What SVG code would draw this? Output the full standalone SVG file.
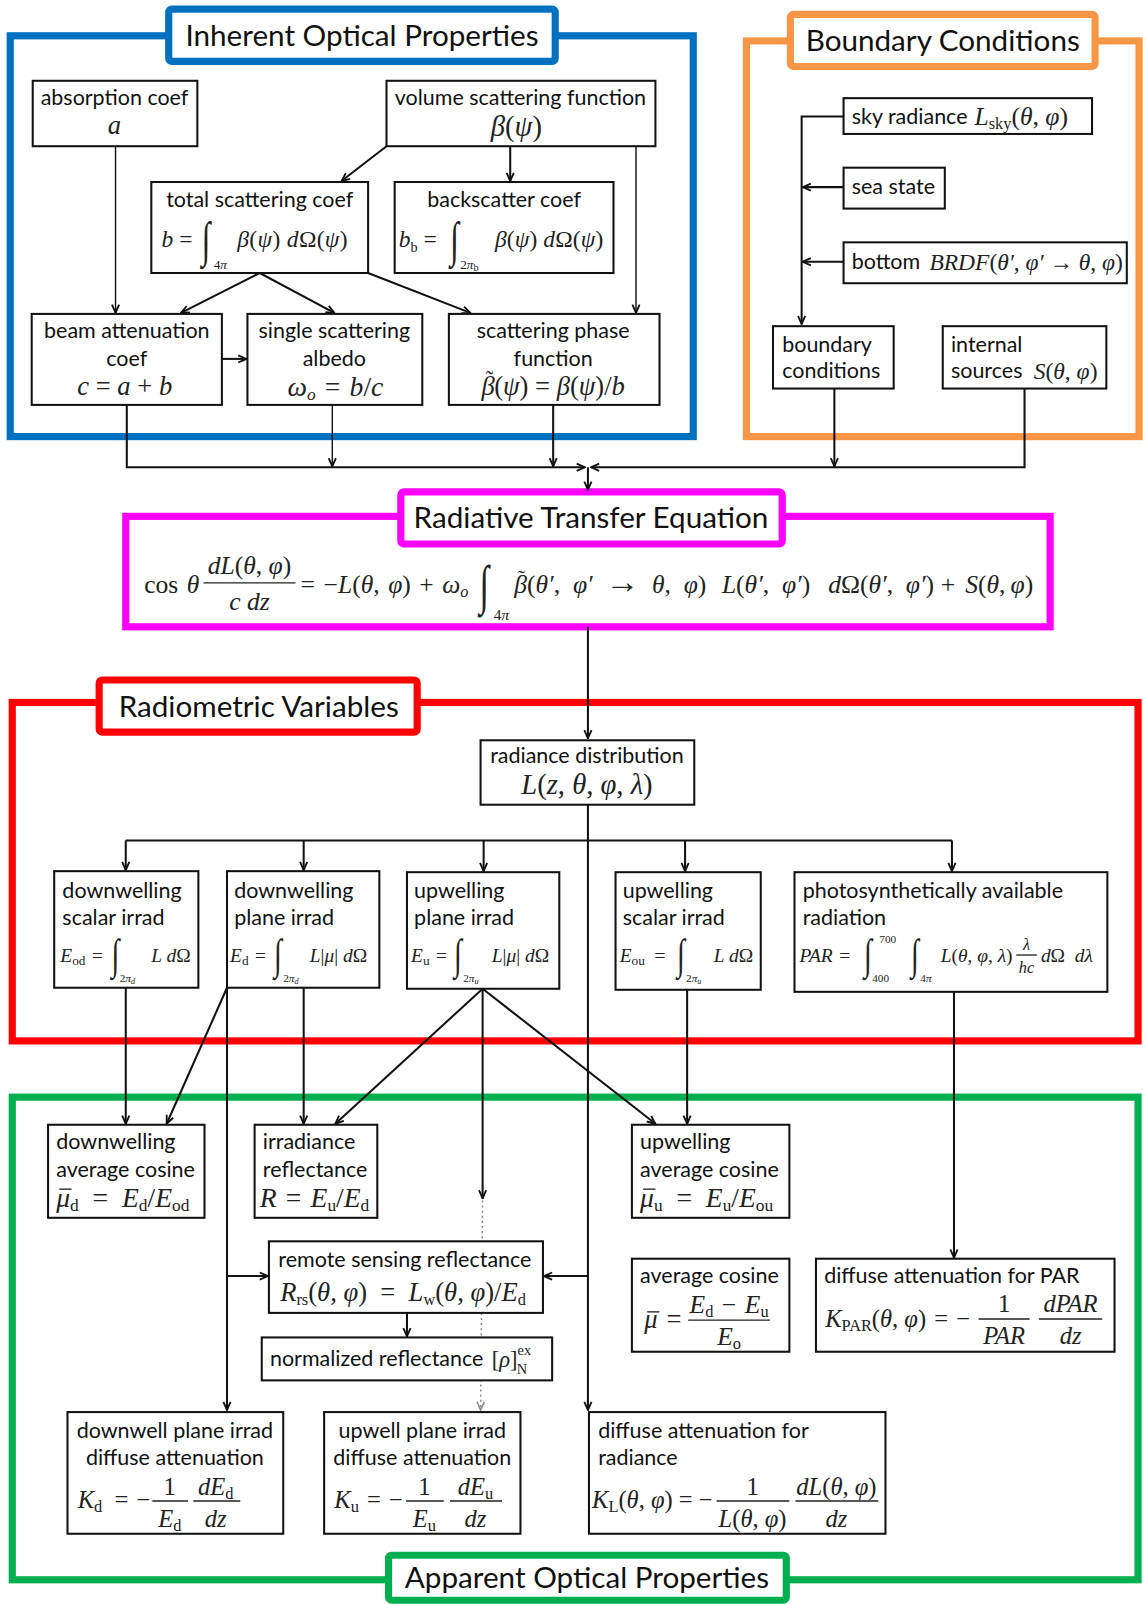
<svg xmlns="http://www.w3.org/2000/svg" width="1143" height="1604" viewBox="0 0 1143 1604">
<style>
.lbl{font-family:Lato,"Liberation Sans",sans-serif;font-size:21px;fill:#111}
.ttl{font-family:Lato,"Liberation Sans",sans-serif;font-size:29px;fill:#111;text-anchor:middle}
.c{text-anchor:middle}
.m{font-family:"Liberation Serif",serif;font-style:italic;fill:#222}
.r{font-style:normal}
.box{fill:#fff;stroke:#111;stroke-width:2}
.frame{fill:none;stroke-width:7}
.tbox{fill:#fff;stroke-width:7}
.ln{fill:none;stroke:#111;stroke-width:2}
.thin{stroke-width:1.4}
.dot{fill:none;stroke:#888;stroke-width:1.5;stroke-dasharray:2 3}
.int{font-family:"Liberation Serif",serif;fill:#222}
.bar{stroke:#222;stroke-width:1.3}
</style>
<defs>
<marker id="ah" viewBox="0 0 10 10" refX="9" refY="5" markerWidth="10" markerHeight="10" markerUnits="userSpaceOnUse" orient="auto"><path d="M1,1.5 L9,5 L1,8.5" fill="none" stroke="#111" stroke-width="1.8"/></marker>
<marker id="ahg" viewBox="0 0 10 10" refX="9" refY="5" markerWidth="10" markerHeight="10" markerUnits="userSpaceOnUse" orient="auto"><path d="M1,1.5 L9,5 L1,8.5" fill="none" stroke="#888" stroke-width="1.5"/></marker>
</defs>
<rect width="1143" height="1604" fill="#fff"/>
<g transform="scale(1.0225)">

<g id="frames">
<rect class="frame" x="10" y="35" width="668" height="392" stroke="#0070C0"/>
<rect class="tbox" x="165" y="9" width="378" height="51" rx="3" stroke="#0070C0"/>
<text class="ttl" x="354" y="45">Inherent Optical Properties</text>
<rect class="frame" x="730" y="40" width="384" height="387" stroke="#F79646"/>
<rect class="tbox" x="773" y="14" width="298" height="51" rx="3" stroke="#F79646"/>
<text class="ttl" x="922" y="50">Boundary Conditions</text>
<rect class="frame" x="123" y="505" width="904" height="108" stroke="#FF00FF"/>
<rect class="tbox" x="392" y="481" width="373" height="51" rx="3" stroke="#FF00FF"/>
<text class="ttl" x="578" y="516">Radiative Transfer Equation</text>
<rect class="frame" x="12" y="687" width="1101" height="331" stroke="#FF0000"/>
<rect class="tbox" x="97" y="665" width="311" height="51" rx="3" stroke="#FF0000"/>
<text class="ttl" x="253" y="701">Radiometric Variables</text>
<rect class="frame" x="12" y="1073" width="1101" height="472" stroke="#00B050"/>
<rect class="tbox" x="380" y="1521" width="389" height="44" rx="3" stroke="#00B050"/>
<text class="ttl" x="574" y="1553">Apparent Optical Properties</text>
</g>

<g id="connectors">
<path class="ln thin" d="M113,143 V306" marker-end="url(#ah)"/>
<path class="ln" d="M378,143 L334,177" marker-end="url(#ah)"/>
<path class="ln" d="M499,143 V177" marker-end="url(#ah)"/>
<path class="ln thin" d="M622,143 V306" marker-end="url(#ah)"/>
<path class="ln" d="M254,267 L177,306" marker-end="url(#ah)"/>
<path class="ln" d="M254,267 L327,306" marker-end="url(#ah)"/>
<path class="ln" d="M360,267 L460,306" marker-end="url(#ah)"/>
<path class="ln" d="M217,351 H241" marker-end="url(#ah)"/>
<path class="ln" d="M124,396 V457 H572" marker-end="url(#ah)"/>
<path class="ln" d="M1002,380 V457 H578" marker-end="url(#ah)"/>
<path class="ln thin" d="M325,396 V456" marker-end="url(#ah)"/>
<path class="ln" d="M541,396 V456" marker-end="url(#ah)"/>
<path class="ln" d="M816,380 V456" marker-end="url(#ah)"/>
<path class="ln" d="M575,457 V479" marker-end="url(#ah)"/>
<path class="ln" d="M825,114 H784 V317" marker-end="url(#ah)"/>
<path class="ln" d="M825,183 H785" marker-end="url(#ah)"/>
<path class="ln" d="M825,256 H785" marker-end="url(#ah)"/>
<path class="ln" d="M575,613 V722" marker-end="url(#ah)"/>
<path class="ln" d="M575,787 V1379" marker-end="url(#ah)"/>
<path class="ln" d="M123,822 H931"/>
<path class="ln" d="M123,822 V851" marker-end="url(#ah)"/>
<path class="ln" d="M297,822 V851" marker-end="url(#ah)"/>
<path class="ln" d="M473,822 V852" marker-end="url(#ah)"/>
<path class="ln" d="M670,822 V852" marker-end="url(#ah)"/>
<path class="ln" d="M931,822 V852" marker-end="url(#ah)"/>
<path class="ln" d="M123,966 V1099" marker-end="url(#ah)"/>
<path class="ln" d="M222,966 L163,1099" marker-end="url(#ah)"/>
<path class="ln" d="M222,966 V1379" marker-end="url(#ah)"/>
<path class="ln" d="M222,1248 H262" marker-end="url(#ah)"/>
<path class="ln" d="M575,1248 H532" marker-end="url(#ah)"/>
<path class="ln" d="M297,966 V1099" marker-end="url(#ah)"/>
<path class="ln" d="M472,967 L328,1099" marker-end="url(#ah)"/>
<path class="ln" d="M472,967 L641,1099" marker-end="url(#ah)"/>
<path class="ln" d="M472,967 V1172" marker-end="url(#ah)"/>
<path class="dot" d="M472,1174 L470,1379" marker-end="url(#ahg)"/>
<path class="ln" d="M672,968 V1099" marker-end="url(#ah)"/>
<path class="ln" d="M933,970 V1230" marker-end="url(#ah)"/>
<path class="ln" d="M398,1284 V1307" marker-end="url(#ah)"/>
</g>

<g id="n-absorption">
<rect class="box" x="32" y="79" width="161" height="64"/>
<text class="lbl c" x="112" y="103">absorption coef</text>
<text class="m c" x="112" y="131" font-size="26">a</text>
</g>
<g id="n-vsf">
<rect class="box" x="378" y="79" width="263" height="64"/>
<text class="lbl c" x="509" y="103">volume scattering function</text>
<text class="m c" x="505" y="133" font-size="28">β<tspan class="r">(</tspan>ψ<tspan class="r">)</tspan></text>
</g>
<g id="n-total">
<rect class="box" x="148" y="178" width="212" height="89"/>
<text class="lbl c" x="254" y="202">total scattering coef</text>
<text class="m" x="158" y="242" font-size="23">b <tspan class="r">=</tspan></text>
<text class="int" transform="translate(197,250) scale(1,1.55)" font-size="31">∫</text>
<text class="m" x="209" y="263" font-size="13"><tspan class="r">4</tspan>π</text>
<text class="m" x="232" y="242" font-size="23" textLength="108">β<tspan class="r">(</tspan>ψ<tspan class="r">) </tspan>d<tspan class="r">Ω(</tspan>ψ<tspan class="r">)</tspan></text>
</g>
<g id="n-backscatter">
<rect class="box" x="386" y="178" width="214" height="89"/>
<text class="lbl c" x="493" y="202">backscatter coef</text>
<text class="m" x="390" y="242" font-size="23">b<tspan class="r" font-size="14" dy="4">b</tspan><tspan class="r" dy="-4"> =</tspan></text>
<text class="int" transform="translate(440,250) scale(1,1.55)" font-size="31">∫</text>
<text class="m" x="450" y="263" font-size="13"><tspan class="r">2</tspan>π<tspan class="r" font-size="10" dy="2">b</tspan></text>
<text class="m" x="484" y="242" font-size="23" textLength="106">β<tspan class="r">(</tspan>ψ<tspan class="r">) </tspan>d<tspan class="r">Ω(</tspan>ψ<tspan class="r">)</tspan></text>
</g>
<g id="n-beam">
<rect class="box" x="31" y="307" width="186" height="89"/>
<text class="lbl c" x="124" y="331">beam attenuation</text>
<text class="lbl c" x="124" y="358">coef</text>
<text class="m c" x="122" y="386" font-size="26">c <tspan class="r">=</tspan> a <tspan class="r">+</tspan> b</text>
</g>
<g id="n-albedo">
<rect class="box" x="242" y="307" width="171" height="89"/>
<text class="lbl c" x="327" y="331">single scattering</text>
<text class="lbl c" x="327" y="358">albedo</text>
<text class="m c" x="328" y="387" font-size="27">ω<tspan font-size="17" dy="4">o</tspan><tspan dy="-4" class="r">&#8196;=&#8196;</tspan>b<tspan class="r">/</tspan>c</text>
</g>
<g id="n-phase">
<rect class="box" x="439" y="307" width="206" height="89"/>
<text class="lbl c" x="541" y="331">scattering phase</text>
<text class="lbl c" x="541" y="358">function</text>
<text class="m" x="471" y="386" font-size="26">β<tspan class="r" font-size="22" dx="-9" dy="-8">&#732;</tspan><tspan class="r" dx="1" dy="8">(</tspan>ψ<tspan class="r">) = </tspan>β<tspan class="r">(</tspan>ψ<tspan class="r">)/</tspan>b</text>
</g>

<g id="n-sky">
<rect class="box" x="825" y="96" width="243" height="35"/>
<text class="lbl" x="833" y="121">sky radiance</text>
<text class="m" x="953" y="122" font-size="25">L<tspan class="r" font-size="16" dy="4">sky</tspan><tspan class="r" dy="-4">(</tspan>θ<tspan class="r">, </tspan>φ<tspan class="r">)</tspan></text>
</g>
<g id="n-sea">
<rect class="box" x="825" y="164" width="99" height="40"/>
<text class="lbl" x="833" y="190">sea state</text>
</g>
<g id="n-brdf">
<rect class="box" x="825" y="237" width="277" height="40"/>
<text class="lbl" x="833" y="263">bottom</text>
<text class="m" x="909" y="264" font-size="23" textLength="189">BRDF<tspan class="r">(</tspan>θ′<tspan class="r">, </tspan>φ′<tspan class="r"> → </tspan>θ<tspan class="r">, </tspan>φ<tspan class="r">)</tspan></text>
</g>
<g id="n-boundary">
<rect class="box" x="756" y="319" width="118" height="61"/>
<text class="lbl" x="765" y="344">boundary</text>
<text class="lbl" x="765" y="370">conditions</text>
</g>
<g id="n-internal">
<rect class="box" x="922" y="319" width="160" height="61"/>
<text class="lbl" x="930" y="344">internal</text>
<text class="lbl" x="930" y="370">sources</text>
<text class="m" x="1011" y="371" font-size="23">S<tspan class="r">(</tspan>θ<tspan class="r">, </tspan>φ<tspan class="r">)</tspan></text>
</g>

<g id="n-rte">
<text class="m" x="141" y="580" font-size="25"><tspan class="r">cos&#8196;</tspan>θ</text>
<text class="m c" x="244" y="561" font-size="25">dL<tspan class="r">(</tspan>θ<tspan class="r">, </tspan>φ<tspan class="r">)</tspan></text>
<line class="bar" x1="199" y1="570" x2="289" y2="570"/>
<text class="m c" x="244" y="597" font-size="25">c dz</text>
<text class="m" x="294" y="580" font-size="25"><tspan class="r">=&#8196;−</tspan>L<tspan class="r">(</tspan>θ<tspan class="r">,&#8196;</tspan>φ<tspan class="r">)&#8196;+&#8196;</tspan>ω<tspan font-size="16" dy="4">o</tspan></text>
<text class="int" transform="translate(469,590) scale(1,1.55)" font-size="34">∫</text>
<text class="m" x="483" y="606" font-size="15"><tspan class="r">4</tspan>π</text>
<text class="m" y="580" font-size="25"><tspan x="503">β</tspan><tspan class="r" font-size="21" dx="-9" dy="-8">&#732;</tspan><tspan class="r" dx="2" dy="8">(</tspan>θ′<tspan class="r">,&#8194;</tspan>φ′<tspan class="r">&#8194;</tspan><tspan class="r" font-size="33">→</tspan><tspan class="r">&#8194;</tspan>θ<tspan class="r">,&#8194;</tspan>φ<tspan class="r">)</tspan><tspan x="706">L</tspan><tspan class="r">(</tspan>θ′<tspan class="r">,&#8194;</tspan>φ′<tspan class="r">)</tspan><tspan x="810">d</tspan><tspan class="r">Ω(</tspan>θ′<tspan class="r">,&#8194;</tspan>φ′<tspan class="r">)</tspan><tspan class="r" x="920">+</tspan><tspan x="944">S</tspan><tspan class="r">(</tspan>θ<tspan class="r">,&#8201;</tspan>φ<tspan class="r">)</tspan></text>
</g>

<g id="n-radiance">
<rect class="box" x="470" y="724" width="209" height="63"/>
<text class="lbl c" x="574" y="746">radiance distribution</text>
<text class="m c" x="574" y="777" font-size="28">L<tspan class="r">(</tspan>z<tspan class="r">, </tspan>θ<tspan class="r">, </tspan>φ<tspan class="r">, </tspan>λ<tspan class="r">)</tspan></text>
</g>

<g id="n-eod">
<rect class="box" x="53" y="852" width="141" height="114"/>
<text class="lbl" x="61" y="878">downwelling</text>
<text class="lbl" x="61" y="905">scalar irrad</text>
<text class="m" x="59" y="941" font-size="19">E<tspan class="r" font-size="13" dy="3">od</tspan><tspan class="r" dy="-3">&#8196;=</tspan></text>
<text class="int" transform="translate(109,948) scale(1,1.5)" font-size="28">∫</text>
<text class="m" x="117" y="960" font-size="11"><tspan class="r">2</tspan>π<tspan font-size="8" dy="2">d</tspan></text>
<text class="m" x="148" y="941" font-size="19">L d<tspan class="r">Ω</tspan></text>
</g>
<g id="n-ed">
<rect class="box" x="222" y="852" width="149" height="114"/>
<text class="lbl" x="229" y="878">downwelling</text>
<text class="lbl" x="229" y="905">plane irrad</text>
<text class="m" x="225" y="941" font-size="19">E<tspan class="r" font-size="13" dy="3">d</tspan><tspan class="r" dy="-3">&#8196;=</tspan></text>
<text class="int" transform="translate(268,948) scale(1,1.5)" font-size="28">∫</text>
<text class="m" x="277" y="960" font-size="11"><tspan class="r">2</tspan>π<tspan font-size="8" dy="2">d</tspan></text>
<text class="m" x="303" y="941" font-size="19">L<tspan class="r">|</tspan>μ<tspan class="r">| </tspan>d<tspan class="r">Ω</tspan></text>
</g>
<g id="n-eu">
<rect class="box" x="398" y="853" width="149" height="114"/>
<text class="lbl" x="405" y="878">upwelling</text>
<text class="lbl" x="405" y="905">plane irrad</text>
<text class="m" x="402" y="941" font-size="19">E<tspan class="r" font-size="13" dy="3">u</tspan><tspan class="r" dy="-3">&#8196;=</tspan></text>
<text class="int" transform="translate(444,948) scale(1,1.5)" font-size="28">∫</text>
<text class="m" x="453" y="960" font-size="11"><tspan class="r">2</tspan>π<tspan font-size="8" dy="2">u</tspan></text>
<text class="m" x="481" y="941" font-size="19">L<tspan class="r">|</tspan>μ<tspan class="r">| </tspan>d<tspan class="r">Ω</tspan></text>
</g>
<g id="n-eou">
<rect class="box" x="602" y="853" width="142" height="115"/>
<text class="lbl" x="609" y="878">upwelling</text>
<text class="lbl" x="609" y="905">scalar irrad</text>
<text class="m" x="606" y="941" font-size="19">E<tspan class="r" font-size="13" dy="3">ou</tspan><tspan class="r" dy="-3">&#8194;=</tspan></text>
<text class="int" transform="translate(662,948) scale(1,1.5)" font-size="28">∫</text>
<text class="m" x="671" y="960" font-size="11"><tspan class="r">2</tspan>π<tspan font-size="8" dy="2">u</tspan></text>
<text class="m" x="698" y="941" font-size="19">L d<tspan class="r">Ω</tspan></text>
</g>
<g id="n-par">
<rect class="box" x="777" y="853" width="306" height="117"/>
<text class="lbl" x="785" y="878">photosynthetically available</text>
<text class="lbl" x="785" y="905">radiation</text>
<text class="m" x="782" y="941" font-size="19">PAR<tspan class="r">&#8196;=</tspan></text>
<text class="int" transform="translate(845,948) scale(1,1.5)" font-size="28">∫</text>
<text class="m" x="860" y="922" font-size="11" style="font-style:normal">700</text>
<text class="m" x="853" y="960" font-size="11" style="font-style:normal">400</text>
<text class="int" transform="translate(891,948) scale(1,1.5)" font-size="28">∫</text>
<text class="m" x="900" y="960" font-size="11"><tspan class="r">4</tspan>π</text>
<text class="m" x="920" y="941" font-size="19">L<tspan class="r">(</tspan>θ<tspan class="r">, </tspan>φ<tspan class="r">, </tspan>λ<tspan class="r">)</tspan></text>
<text class="m c" x="1004" y="929" font-size="16">λ</text>
<line class="bar" x1="994" y1="934" x2="1014" y2="934"/>
<text class="m c" x="1004" y="952" font-size="16">hc</text>
<text class="m" x="1018" y="941" font-size="19">d<tspan class="r">Ω&#8194;</tspan>dλ</text>
</g>

<g id="n-mud">
<rect class="box" x="47" y="1100" width="153" height="91"/>
<text class="lbl" x="55" y="1124">downwelling</text>
<text class="lbl" x="55" y="1151">average cosine</text>
<line class="bar" x1="58" y1="1163" x2="70" y2="1163"/>
<text class="m" x="55" y="1180" font-size="27">μ<tspan class="r" font-size="17" dy="4">d</tspan><tspan class="r" dy="-4">&#8194;=&#8194;</tspan>E<tspan class="r" font-size="17" dy="4">d</tspan><tspan class="r" dy="-4">/</tspan>E<tspan class="r" font-size="17" dy="4">od</tspan></text>
</g>
<g id="n-R">
<rect class="box" x="249" y="1100" width="120" height="91"/>
<text class="lbl" x="257" y="1124">irradiance</text>
<text class="lbl" x="257" y="1151">reflectance</text>
<text class="m" x="254" y="1180" font-size="27">R<tspan class="r">&#8196;=&#8196;</tspan>E<tspan class="r" font-size="17" dy="4">u</tspan><tspan class="r" dy="-4">/</tspan>E<tspan class="r" font-size="17" dy="4">d</tspan></text>
</g>
<g id="n-muu">
<rect class="box" x="618" y="1100" width="154" height="91"/>
<text class="lbl" x="626" y="1124">upwelling</text>
<text class="lbl" x="626" y="1151">average cosine</text>
<line class="bar" x1="629" y1="1163" x2="641" y2="1163"/>
<text class="m" x="626" y="1180" font-size="27">μ<tspan class="r" font-size="17" dy="4">u</tspan><tspan class="r" dy="-4">&#8194;=&#8194;</tspan>E<tspan class="r" font-size="17" dy="4">u</tspan><tspan class="r" dy="-4">/</tspan>E<tspan class="r" font-size="17" dy="4">ou</tspan></text>
</g>
<g id="n-rrs">
<rect class="box" x="263" y="1214" width="268" height="70"/>
<text class="lbl c" x="396" y="1239">remote sensing reflectance</text>
<text class="m" x="274" y="1272" font-size="26">R<tspan class="r" font-size="16" dy="4">rs</tspan><tspan class="r" dy="-4">(</tspan>θ<tspan class="r">, </tspan>φ<tspan class="r">)&#8194;=&#8194;</tspan>L<tspan class="r" font-size="16" dy="4">w</tspan><tspan class="r" dy="-4">(</tspan>θ<tspan class="r">, </tspan>φ<tspan class="r">)/</tspan>E<tspan class="r" font-size="16" dy="4">d</tspan></text>
</g>
<g id="n-norm">
<rect class="box" x="256" y="1308" width="284" height="42"/>
<text class="lbl" x="264" y="1336">normalized reflectance</text>
<text class="m" x="481" y="1337" font-size="22"><tspan class="r">[</tspan>ρ<tspan class="r">]</tspan><tspan class="r" font-size="14" dy="-12">ex</tspan><tspan class="r" font-size="14" dx="-14" dy="19">N</tspan></text>
</g>
<g id="n-mu">
<rect class="box" x="618" y="1231" width="154" height="91"/>
<text class="lbl" x="626" y="1255">average cosine</text>
<line class="bar" x1="633" y1="1283" x2="645" y2="1283"/>
<text class="m" x="630" y="1299" font-size="26">μ<tspan class="r">&#8196;=</tspan></text>
<text class="m c" x="713" y="1284" font-size="25">E<tspan class="r" font-size="16" dy="4">d</tspan><tspan class="r" dy="-4">&#8196;−&#8196;</tspan>E<tspan class="r" font-size="16" dy="4">u</tspan></text>
<line class="bar" x1="673" y1="1291" x2="753" y2="1291"/>
<text class="m c" x="713" y="1315" font-size="25">E<tspan class="r" font-size="16" dy="4">o</tspan></text>
</g>
<g id="n-kpar">
<rect class="box" x="798" y="1231" width="292" height="91"/>
<text class="lbl" x="806" y="1255">diffuse attenuation for PAR</text>
<text class="m" x="807" y="1298" font-size="24">K<tspan class="r" font-size="16" dy="4">PAR</tspan><tspan class="r" dy="-4">(</tspan>θ<tspan class="r">, </tspan>φ<tspan class="r">)&#8196;=&#8196;−</tspan></text>
<text class="m c" x="982" y="1283" font-size="24"><tspan class="r">1</tspan></text>
<line class="bar" x1="957" y1="1290" x2="1007" y2="1290"/>
<text class="m c" x="982" y="1314" font-size="24">PAR</text>
<text class="m c" x="1047" y="1283" font-size="24">dPAR</text>
<line class="bar" x1="1016" y1="1290" x2="1078" y2="1290"/>
<text class="m c" x="1047" y="1314" font-size="24">dz</text>
</g>
<g id="n-kd">
<rect class="box" x="66" y="1381" width="211" height="119"/>
<text class="lbl c" x="171" y="1406">downwell plane irrad</text>
<text class="lbl c" x="171" y="1433">diffuse attenuation</text>
<text class="m" x="76" y="1475" font-size="24">K<tspan class="r" font-size="16" dy="4">d</tspan><tspan class="r" dy="-4">&#8194;=&#8196;−</tspan></text>
<text class="m c" x="166" y="1462" font-size="24"><tspan class="r">1</tspan></text>
<line class="bar" x1="149" y1="1468" x2="184" y2="1468"/>
<text class="m c" x="166" y="1493" font-size="24">E<tspan class="r" font-size="16" dy="4">d</tspan></text>
<text class="m c" x="211" y="1462" font-size="24">dE<tspan class="r" font-size="16" dy="4">d</tspan></text>
<line class="bar" x1="189" y1="1468" x2="235" y2="1468"/>
<text class="m c" x="211" y="1493" font-size="24">dz</text>
</g>
<g id="n-ku">
<rect class="box" x="317" y="1381" width="192" height="119"/>
<text class="lbl c" x="413" y="1406">upwell plane irrad</text>
<text class="lbl c" x="413" y="1433">diffuse attenuation</text>
<text class="m" x="327" y="1475" font-size="24">K<tspan class="r" font-size="16" dy="4">u</tspan><tspan class="r" dy="-4">&#8196;=&#8196;−</tspan></text>
<text class="m c" x="415" y="1462" font-size="24"><tspan class="r">1</tspan></text>
<line class="bar" x1="397" y1="1468" x2="434" y2="1468"/>
<text class="m c" x="415" y="1493" font-size="24">E<tspan class="r" font-size="16" dy="4">u</tspan></text>
<text class="m c" x="465" y="1462" font-size="24">dE<tspan class="r" font-size="16" dy="4">u</tspan></text>
<line class="bar" x1="440" y1="1468" x2="491" y2="1468"/>
<text class="m c" x="465" y="1493" font-size="24">dz</text>
</g>
<g id="n-kl">
<rect class="box" x="576" y="1381" width="290" height="119"/>
<text class="lbl" x="585" y="1406">diffuse attenuation for</text>
<text class="lbl" x="585" y="1433">radiance</text>
<text class="m" x="579" y="1475" font-size="24">K<tspan class="r" font-size="16" dy="4">L</tspan><tspan class="r" dy="-4">(</tspan>θ<tspan class="r">, </tspan>φ<tspan class="r">) = −</tspan></text>
<text class="m c" x="736" y="1462" font-size="24"><tspan class="r">1</tspan></text>
<line class="bar" x1="701" y1="1468" x2="772" y2="1468"/>
<text class="m c" x="736" y="1493" font-size="24">L<tspan class="r">(</tspan>θ<tspan class="r">, </tspan>φ<tspan class="r">)</tspan></text>
<text class="m c" x="818" y="1462" font-size="24">dL<tspan class="r">(</tspan>θ<tspan class="r">, </tspan>φ<tspan class="r">)</tspan></text>
<line class="bar" x1="778" y1="1468" x2="859" y2="1468"/>
<text class="m c" x="818" y="1493" font-size="24">dz</text>
</g>
</g>
</svg>
